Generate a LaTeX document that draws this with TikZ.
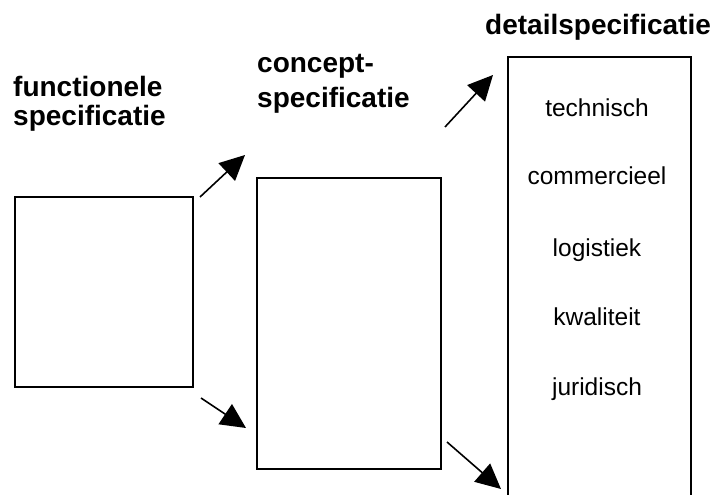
\documentclass[tikz,border=0pt]{standalone}
\usepackage{fontspec}
\setmainfont{Liberation Sans}
\usetikzlibrary{arrows.meta}
\begin{document}
\begin{tikzpicture}[x=1pt,y=-1pt,
  title/.style={anchor=base west,inner sep=0pt,font=\fontsize{28}{34}\selectfont\bfseries},
  item/.style={anchor=base,inner sep=0pt,font=\fontsize{24.5}{29}\selectfont},
  box/.style={draw,line width=1.3pt},
  arr/.style={line width=1.6pt,-{Triangle[length=25pt,width=24pt]}}]
\useasboundingbox (0,0) rectangle (716,495);
% titles
\node[title] (f1) at (13,97) {functionele};
\node[title] (f2) at (13,126) {specificatie};
\node[title] (c1) at (257,73) {concept-};
\node[title] (c2) at (257,108) {specificatie};
\node[title] (d1) at (485,35) {detailspecificatie};
% boxes
\draw[box] (15,197) rectangle (193,387);
\draw[box] (257,178) rectangle (441,469);
\draw[box] (508,500) -- (508,57) -- (691,57) -- (691,500);
% items
\node[item] (t1) at (597,117) {technisch};
\node[item] (t2) at (597,184) {commercieel};
\node[item] (t3) at (597,256) {logistiek};
\node[item] (t4) at (597,325) {kwaliteit};
\node[item] (t5) at (597,395) {juridisch};
% arrows
\coordinate (a1s) at (200,197); \coordinate (a1e) at (245,155);
\coordinate (a2s) at (201,398); \coordinate (a2e) at (246,428);
\coordinate (a3s) at (445,127); \coordinate (a3e) at (493,75);
\coordinate (a4s) at (447,442); \coordinate (a4e) at (501,489);
\draw[arr] (a1s) -- (a1e);
\draw[arr] (a2s) -- (a2e);
\draw[arr] (a3s) -- (a3e);
\draw[arr] (a4s) -- (a4e);
\end{tikzpicture}
\end{document}
